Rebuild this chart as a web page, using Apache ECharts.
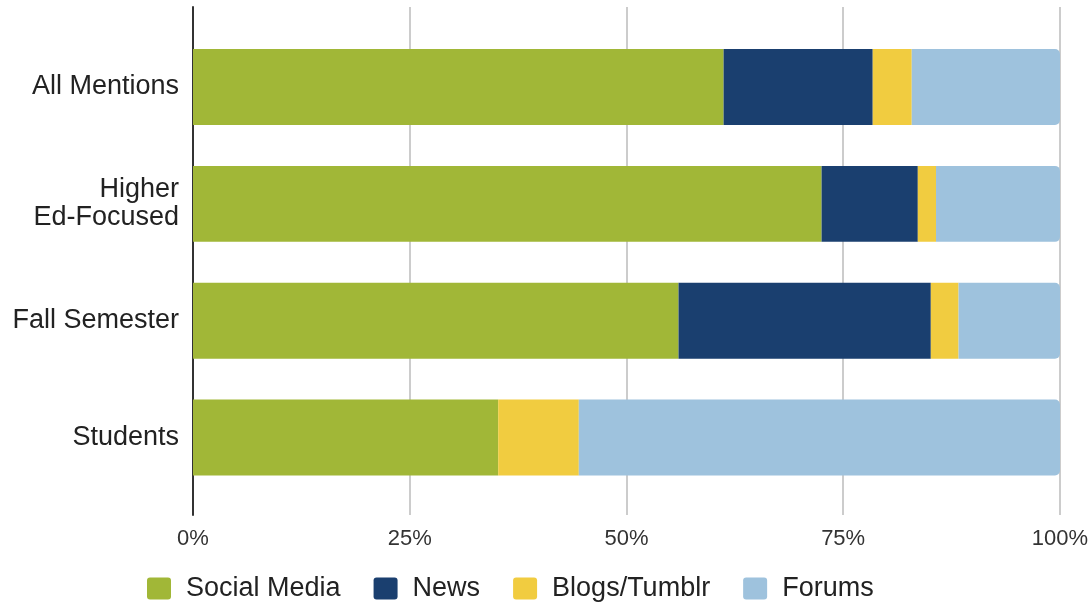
<!DOCTYPE html>
<html>
<head>
<meta charset="utf-8">
<script src="https://cdn.jsdelivr.net/npm/echarts@6/dist/echarts.min.js"></script>
<style>
  html, body { margin: 0; padding: 0; background: #fff; }
  #chart { width: 1091px; height: 602px; }
</style>
</head>
<body>
<div id="chart"></div>
<script>
// Share of mentions by source type (percent of each group)
const categories = ['All Mentions', 'Higher\nEd-Focused', 'Fall Semester', 'Students'];
const socialMedia = [61.2, 72.5, 56.0, 35.2];
const news        = [17.2, 11.1, 29.1, 0];
const blogs       = [4.5, 2.1, 3.2, 9.3];
const forums      = [17.1, 14.3, 11.7, 55.5];
const xTicks = [0, 25, 50, 75, 100];

const FONT = "Arial, 'Liberation Sans', Helvetica, sans-serif";
const colors = { social: '#a1b737', news: '#1a3f6f', blogs: '#f1cc40', forums: '#9ec2dd' };
// small-radius square legend swatch
const SWATCH = 'path://M3,0H21A3,3 0 0 1 24,3V19A3,3 0 0 1 21,22H3A3,3 0 0 1 0,19V3A3,3 0 0 1 3,0Z';

const chart = echarts.init(document.getElementById('chart'), null, { renderer: 'canvas' });

const stackSeries = (name, data, color, radius) => ({
  name, type: 'bar', stack: 'total',
  xAxisIndex: 1, yAxisIndex: 1,
  barCategoryGap: '35%',
  itemStyle: { color, borderRadius: radius || 0 },
  emphasis: { disabled: true },
  data
});

chart.setOption({
  animation: false,
  textStyle: { fontFamily: FONT },
  legend: {
    left: 147, top: 575, padding: 0,
    itemWidth: 24, itemHeight: 22, itemGap: 33,
    icon: SWATCH,
    textStyle: { fontFamily: FONT, fontSize: 27, color: '#222', padding: [0, 0, 0, 10] },
    data: ['Social Media', 'News', 'Blogs/Tumblr', 'Forums']
  },
  grid: [
    // frame: gridlines, baseline and percent labels
    { left: 193, right: 31, top: 7, bottom: 87, containLabel: false },
    // bars
    { left: 193, right: 31, top: 28.6, bottom: 106, containLabel: false }
  ],
  xAxis: [
    {
      gridIndex: 0, type: 'value', min: 0, max: 100, interval: 25,
      axisLine: { show: false }, axisTick: { show: false },
      splitLine: { show: true, lineStyle: { color: '#cccccc', width: 2 } },
      axisLabel: {
        margin: 13, fontSize: 22, color: '#333', fontFamily: FONT,
        formatter: v => xTicks.includes(v) ? v + '%' : ''
      }
    },
    {
      gridIndex: 1, type: 'value', min: 0, max: 100,
      show: false
    }
  ],
  yAxis: [
    {
      gridIndex: 0, type: 'category', data: [''],
      axisLine: { show: true, lineStyle: { color: '#333', width: 2 } },
      axisTick: { show: false }, axisLabel: { show: false },
      splitLine: { show: false }
    },
    {
      gridIndex: 1, type: 'category', data: categories, inverse: true,
      axisLine: { show: false }, axisTick: { show: false },
      splitLine: { show: false },
      axisLabel: {
        margin: 14, fontSize: 27, color: '#222', fontFamily: FONT,
        lineHeight: 28, align: 'right'
      }
    }
  ],
  series: [
    stackSeries('Social Media', socialMedia, colors.social),
    stackSeries('News', news, colors.news),
    stackSeries('Blogs/Tumblr', blogs, colors.blogs),
    stackSeries('Forums', forums, colors.forums, [0, 5, 5, 0])
  ]
});
</script>
</body>
</html>
